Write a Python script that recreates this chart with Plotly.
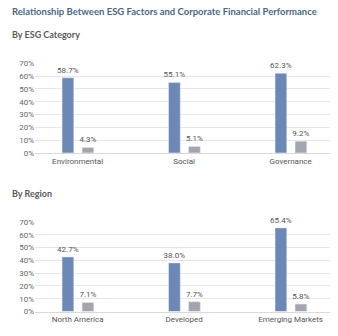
import plotly.graph_objects as go

title = "Relationship Between ESG Factors and Corporate Financial Performance"
sub1 = "By ESG Category"
sub2 = "By Region"

cats1 = ["Environmental", "Social", "Governance"]
blue1 = [58.7, 55.1, 62.3]
gray1 = [4.3, 5.1, 9.2]

cats2 = ["North America", "Developed", "Emerging Markets"]
blue2 = [42.7, 38.0, 65.4]
gray2 = [7.1, 7.7, 5.8]

yticks = [0, 10, 20, 30, 40, 50, 60, 70]
ytext = [f"{v}%" for v in yticks]

BLUE = "#6c88b6"
GRAY = "#a2a6ac"
W, H = 338, 336
NARROW = "Roboto, sans-serif"

fig = go.Figure()

def add(cats, b, g, xa, ya):
    for vals, col, off in ((b, BLUE, -0.146), (g, GRAY, 0.042)):
        fig.add_trace(go.Bar(x=cats, y=vals, width=0.11, offset=off, marker_color=col,
                             text=[f"{v:.1f}%" for v in vals], textposition="outside",
                             constraintext="none",
                             textfont=dict(size=8, color="#555", family=NARROW),
                             cliponaxis=False, xaxis=xa, yaxis=ya, showlegend=False))

add(cats1, blue1, gray1, "x", "y")
add(cats2, blue2, gray2, "x2", "y2")

xd = [35 / W, 330 / W]
axx = dict(type="category", range=[-0.4, 2.37], domain=xd, showgrid=False,
           showline=True, linecolor="#d9d9d9", linewidth=1, ticks="",
           tickfont=dict(size=8, color="#555", family=NARROW), fixedrange=True)
axy = dict(range=[0, 70], tickvals=yticks, ticktext=ytext, showgrid=True,
           gridcolor="#e6e6e6", gridwidth=1, zeroline=False,
           tickfont=dict(size=8, color="#666", family=NARROW), ticks="", fixedrange=True)

fig.update_layout(
    width=W, height=H, margin=dict(l=0, r=0, t=0, b=0),
    paper_bgcolor="white", plot_bgcolor="white",
    barmode="overlay",
    font=dict(family="Open Sans, sans-serif"),
    xaxis=dict(axx, anchor="y"),
    yaxis=dict(axy, domain=[1 - 153 / H, 1 - 61 / H], anchor="x"),
    xaxis2=dict(axx, anchor="y2"),
    yaxis2=dict(axy, domain=[1 - 316 / H, 1 - 224 / H], anchor="x2"),
    annotations=[
        dict(text=f"<b>{title}</b>", x=10 / W, y=1 - 8 / H, xref="paper", yref="paper",
             xanchor="left", yanchor="middle", showarrow=False,
             font=dict(size=9.5, color="#4a6788", family="Lato, sans-serif")),
        dict(text=f"<b>{sub1}</b>", x=10 / W, y=1 - 31 / H, xref="paper", yref="paper",
             xanchor="left", yanchor="middle", showarrow=False,
             font=dict(size=9, color="#5a5a5a", family="Lato, sans-serif")),
        dict(text=f"<b>{sub2}</b>", x=10 / W, y=1 - 195 / H, xref="paper", yref="paper",
             xanchor="left", yanchor="middle", showarrow=False,
             font=dict(size=9, color="#5a5a5a", family="Lato, sans-serif")),
    ],
)

fig.write_html("out.html")
